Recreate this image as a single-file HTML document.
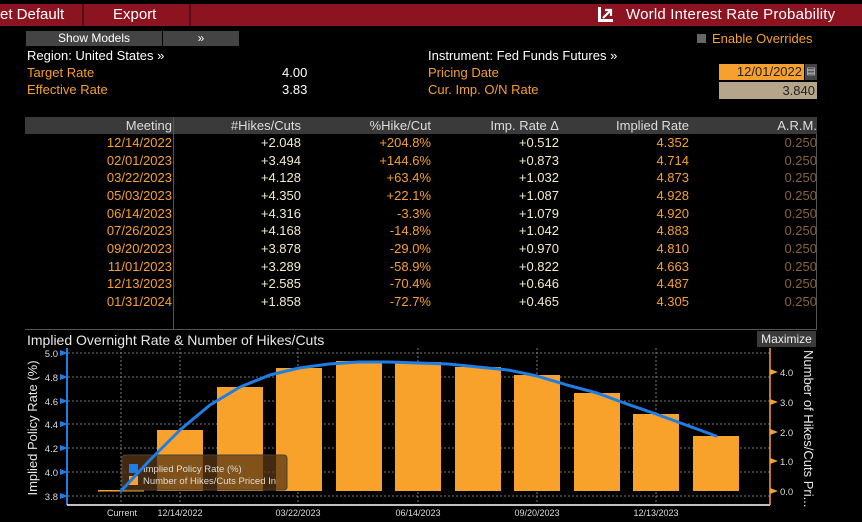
<!DOCTYPE html>
<html><head><meta charset="utf-8"><style>
*{margin:0;padding:0;box-sizing:border-box}
body{width:862px;height:522px;background:#000;font-family:"Liberation Sans",sans-serif;font-size:13px;color:#fff;position:relative;overflow:hidden}
.a{position:absolute;white-space:nowrap}
.o{color:#f5a030}
.y{color:#f2eccb}
.d{color:#8a6338}
.r{text-align:right}
</style></head><body>
<div class="a" style="left:0;top:4px;width:862px;height:22px;background:#8b1420"></div>
<div class="a" style="left:82px;top:4px;width:2px;height:22px;background:#5a0c14"></div>
<div class="a" style="left:189px;top:4px;width:2px;height:22px;background:#5a0c14"></div>
<div class="a" style="left:0;top:6px;font-size:15px">et Default</div>
<div class="a" style="left:113px;top:6px;font-size:15px">Export</div>
<div class="a" style="left:598px;top:7px;width:15px;height:15px;background:#fff"></div>
<div class="a" style="left:601px;top:7px;width:12px;height:12px;background:#8b1420"></div>
<svg class="a" style="left:598px;top:7px" width="16" height="16"><path d="M5 11 L12 4 M7 3 H13 V9" stroke="#fff" stroke-width="2.2" fill="none"/></svg>
<div class="a" style="left:626px;top:6px;font-size:15px;letter-spacing:.2px">World Interest Rate Probability</div>

<div class="a" style="left:26px;top:31px;width:136px;height:15px;background:#444;text-align:center;font-size:12px;line-height:15px">Show Models</div>
<div class="a" style="left:163px;top:31px;width:76px;height:15px;background:#444;text-align:center;font-size:12px;line-height:15px">&#187;</div>
<div class="a" style="left:27px;top:48px">Region: United States &#187;</div>
<div class="a o" style="left:27px;top:65px">Target Rate</div>
<div class="a o" style="left:27px;top:82px">Effective Rate</div>
<div class="a" style="left:282px;top:65px">4.00</div>
<div class="a" style="left:282px;top:82px">3.83</div>
<div class="a" style="left:697px;top:34px;width:9px;height:9px;background:#666"></div>
<div class="a o" style="left:712px;top:31px">Enable Overrides</div>
<div class="a" style="left:428px;top:48px">Instrument: Fed Funds Futures &#187;</div>
<div class="a o" style="left:428px;top:65px">Pricing Date</div>
<div class="a o" style="left:428px;top:82px">Cur. Imp. O/N Rate</div>
<div class="a r" style="left:719px;top:64px;width:85px;height:16px;background:#f7a030;color:#222;padding-right:2px;line-height:16px">12/01/2022</div>
<div class="a" style="left:805px;top:64px;width:12px;height:16px;background:#444;color:#ccc;font-size:10px;text-align:center;line-height:16px">&#9636;</div>
<div class="a r" style="left:719px;top:82px;width:98px;height:17px;background:#b5a58a;color:#222;padding-right:2px;line-height:17px">3.840</div>

<div class="a" style="left:25px;top:117px;width:792px;height:213px;border-right:1px solid #555;border-bottom:1px solid #555"></div>
<div class="a" style="left:25px;top:117px;width:792px;height:17px;background:#3a3a3a"></div>
<div class="a" style="left:173px;top:117px;width:1px;height:213px;background:#555"></div>
<div class="a" style="left:25px;top:117px;width:792px;font-size:13px;line-height:17px;color:#ddd">
<span class="a r" style="left:0;width:147px">Meeting</span>
<span class="a r" style="left:150px;width:126px">#Hikes/Cuts</span>
<span class="a r" style="left:280px;width:126px">%Hike/Cut</span>
<span class="a r" style="left:410px;width:124px">Imp. Rate &#916;</span>
<span class="a r" style="left:540px;width:124px">Implied Rate</span>
<span class="a r" style="left:660px;width:132px">A.R.M.</span>
</div>
<div class="a" style="left:25px;top:134px;width:792px;line-height:17.67px;font-size:13px">
<div class="a r o" style="left:0;width:147px">12/14/2022<br>02/01/2023<br>03/22/2023<br>05/03/2023<br>06/14/2023<br>07/26/2023<br>09/20/2023<br>11/01/2023<br>12/13/2023<br>01/31/2024</div>
<div class="a r y" style="left:150px;width:126px">+2.048<br>+3.494<br>+4.128<br>+4.350<br>+4.316<br>+4.168<br>+3.878<br>+3.289<br>+2.585<br>+1.858</div>
<div class="a r o" style="left:280px;width:126px">+204.8%<br>+144.6%<br>+63.4%<br>+22.1%<br>-3.3%<br>-14.8%<br>-29.0%<br>-58.9%<br>-70.4%<br>-72.7%</div>
<div class="a r y" style="left:410px;width:124px">+0.512<br>+0.873<br>+1.032<br>+1.087<br>+1.079<br>+1.042<br>+0.970<br>+0.822<br>+0.646<br>+0.465</div>
<div class="a r o" style="left:540px;width:124px">4.352<br>4.714<br>4.873<br>4.928<br>4.920<br>4.883<br>4.810<br>4.663<br>4.487<br>4.305</div>
<div class="a r d" style="left:660px;width:132px">0.250<br>0.250<br>0.250<br>0.250<br>0.250<br>0.250<br>0.250<br>0.250<br>0.250<br>0.250</div>
</div>

<div class="a" style="left:27px;top:332px;font-size:14px;color:#e8e8e8">Implied Overnight Rate &amp; Number of Hikes/Cuts</div>
<div class="a" style="left:757px;top:331px;width:59px;height:16px;background:#3a3a3a;font-size:12px;text-align:center;line-height:16px;color:#eee">Maximize</div>

<svg class="a" style="left:0;top:0" width="862" height="522">
<g stroke="#777" stroke-dasharray="2,2" stroke-width="1">
<line x1="68" x2="770" y1="353" y2="353"/><line x1="68" x2="770" y1="377" y2="377"/><line x1="68" x2="770" y1="401" y2="401"/><line x1="68" x2="770" y1="424" y2="424"/><line x1="68" x2="770" y1="448" y2="448"/><line x1="68" x2="770" y1="472" y2="472"/><line x1="68" x2="770" y1="496" y2="496"/>
<line x1="121" x2="121" y1="348" y2="505"/><line x1="180" x2="180" y1="348" y2="505"/><line x1="298" x2="298" y1="348" y2="505"/><line x1="418" x2="418" y1="348" y2="505"/><line x1="537" x2="537" y1="348" y2="505"/><line x1="656" x2="656" y1="348" y2="505"/>
</g>
<g fill="#f8a22c">
<rect x="98" y="490" width="46" height="1.5"/>
<rect x="157" y="430" width="46" height="61"/>
<rect x="217" y="387" width="46" height="104"/>
<rect x="276" y="368" width="46" height="123"/>
<rect x="336" y="361" width="46" height="130"/>
<rect x="395" y="362" width="46" height="129"/>
<rect x="455" y="367" width="46" height="124"/>
<rect x="514" y="375" width="46" height="116"/>
<rect x="574" y="393" width="46" height="98"/>
<rect x="633" y="414" width="46" height="77"/>
<rect x="693" y="436" width="46" height="55"/>
</g>
<rect x="122" y="455" width="165" height="35" rx="3" fill="rgba(90,55,20,0.75)" stroke="#443" stroke-width="1"/>
<rect x="129" y="464" width="9" height="9" fill="#1f7de6"/>
<rect x="129" y="476" width="9" height="9" fill="#f8a22c"/>
<text x="143" y="472" font-size="9.5" fill="#ddd" font-family="Liberation Sans">Implied Policy Rate (%)</text>
<text x="143" y="484" font-size="9.5" fill="#ddd" font-family="Liberation Sans">Number of Hikes/Cuts Priced In</text>
<polyline fill="none" stroke="#1f7de6" stroke-width="3" stroke-linejoin="round" stroke-linecap="round" points="121,491 150,460 180,430 210,405 240,387 270,375 299,368 329,364 359,362 389,362 418,363 448,364 478,367 508,370 537,376 567,385 597,393 627,404 656,414 686,425 716,436"/>
<line x1="67" x2="67" y1="348" y2="505" stroke="#1f7de6" stroke-width="2"/>
<line x1="67" x2="770" y1="505" y2="505" stroke="#fff" stroke-width="1.5"/>
<line x1="770" x2="770" y1="348" y2="505" stroke="#f8a22c" stroke-width="1.5"/>
<g fill="#1f7de6">
<polygon points="60,350 68,353 60,356"/><polygon points="60,374 68,377 60,380"/><polygon points="60,398 68,401 60,404"/><polygon points="60,421 68,424 60,427"/><polygon points="60,445 68,448 60,451"/><polygon points="60,469 68,472 60,475"/><polygon points="60,493 68,496 60,499"/>
</g>
<g fill="#f8a22c">
<polygon points="770,369 778,372 770,375"/><polygon points="770,399 778,402 770,405"/><polygon points="770,429 778,432 770,435"/><polygon points="770,458 778,461 770,464"/><polygon points="770,488 778,491 770,494"/>
</g>
<g fill="#ddd" font-size="9.5" font-family="Liberation Sans" text-anchor="end">
<text x="58" y="357">5.0</text><text x="58" y="381">4.8</text><text x="58" y="405">4.6</text><text x="58" y="428">4.4</text><text x="58" y="452">4.2</text><text x="58" y="476">4.0</text><text x="58" y="500">3.8</text>
</g>
<g fill="#ddd" font-size="9.5" font-family="Liberation Sans">
<text x="780" y="376">4.0</text><text x="780" y="406">3.0</text><text x="780" y="436">2.0</text><text x="780" y="465">1.0</text><text x="780" y="495">0.0</text>
</g>
<g fill="#ddd" font-size="9" font-family="Liberation Sans" text-anchor="middle">
<text x="122" y="516">Current</text><text x="180" y="516">12/14/2022</text><text x="298" y="516">03/22/2023</text><text x="418" y="516">06/14/2023</text><text x="537" y="516">09/20/2023</text><text x="656" y="516">12/13/2023</text>
</g>
<text transform="translate(37,428) rotate(-90)" text-anchor="middle" fill="#e8e8e8" font-size="13" font-family="Liberation Sans">Implied Policy Rate (%)</text>
<text transform="translate(804,350) rotate(90)" fill="#e8e8e8" font-size="13" font-family="Liberation Sans">Number of Hikes/Cuts Pri...</text>
</svg>
</body></html>
